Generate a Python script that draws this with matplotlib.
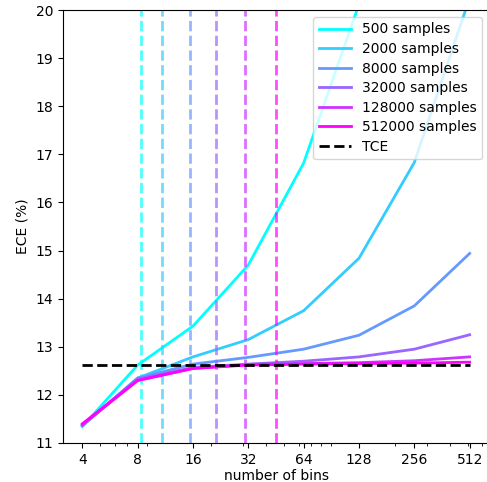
import matplotlib
matplotlib.use("Agg")
import matplotlib.pyplot as plt
import numpy as np
from matplotlib.ticker import NullFormatter

# number of bins on the x axis
bins = [4, 8, 16, 32, 64, 128, 256, 512]

samples = [500, 2000, 8000, 32000, 128000, 512000]

# ECE (%) for each sample size
ece_500 = [11.34, 12.62, 13.43, 14.70, 16.82, 20.12, 24.0, 30.0]
ece_2000 = [11.36, 12.35, 12.79, 13.15, 13.75, 14.84, 16.83, 20.25]
ece_8000 = [11.36, 12.35, 12.64, 12.78, 12.95, 13.24, 13.85, 14.94]
ece_32000 = [11.37, 12.33, 12.57, 12.64, 12.70, 12.79, 12.95, 13.25]
ece_128000 = [11.38, 12.30, 12.55, 12.63, 12.65, 12.67, 12.71, 12.79]
ece_512000 = [11.40, 12.30, 12.55, 12.62, 12.64, 12.65, 12.66, 12.68]

# vertical dashed markers (bins per sample size)
opt_bins = [8.3, 10.8, 15.5, 21.4, 30.8, 45.2]

tce = 12.63

curves = [ece_500, ece_2000, ece_8000, ece_32000, ece_128000, ece_512000]
colors = plt.cm.cool(np.linspace(0, 1, len(samples)))

fig = plt.figure(figsize=(4.87, 4.82), dpi=100)
ax = fig.add_axes([63 / 487, 39 / 482, 426 / 487, 433 / 482])

for n, vals, vb, c in zip(samples, curves, opt_bins, colors):
    ax.plot(bins, vals, color=c, lw=2, label='%d samples' % n)
    ax.axvline(vb, color=c, ls='--', lw=2, alpha=0.7)

ax.plot([bins[0], bins[-1]], [tce, tce], 'k--', lw=2, label='TCE')

ax.set_xscale('log')
ax.set_xticks(bins)
ax.set_xticklabels([str(b) for b in bins])
ax.xaxis.set_minor_formatter(NullFormatter())
ax.set_ylim(11, 20)
ax.set_xlabel('number of bins', labelpad=2)
ax.set_ylabel('ECE (%)')
ax.legend(loc='upper right', labelspacing=0.4, handlelength=2.3)

fig.savefig('out.png', dpi=100)
